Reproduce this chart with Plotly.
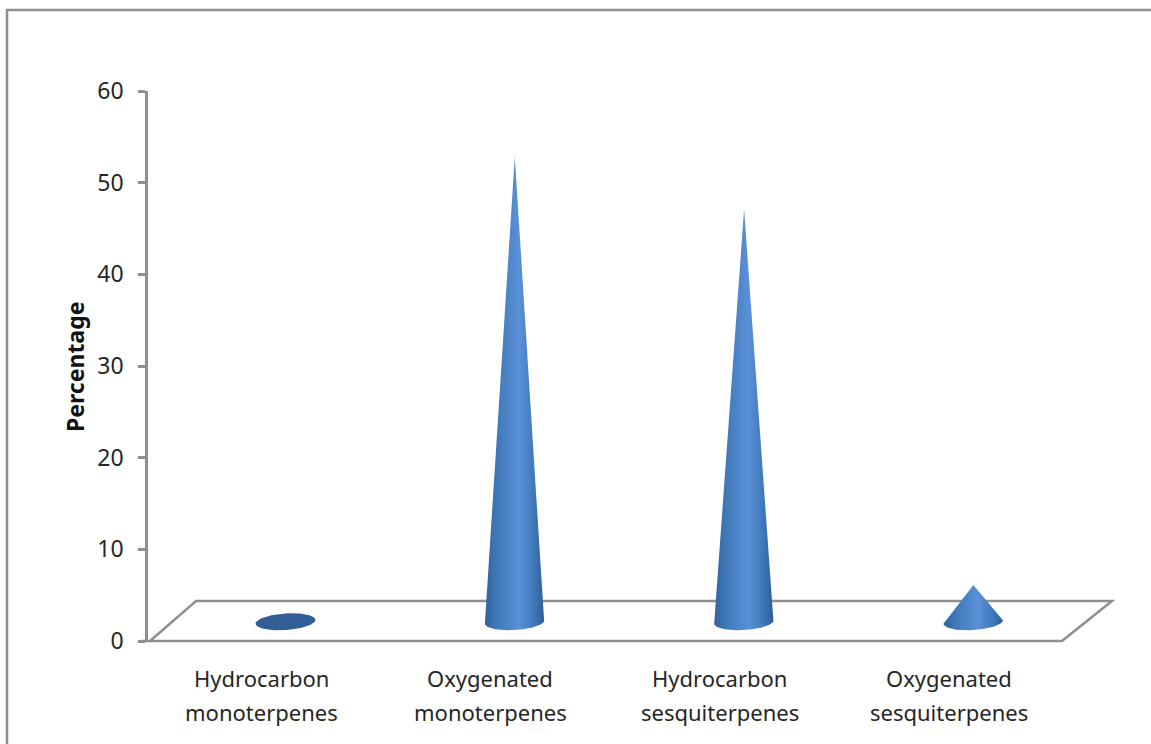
import numpy as np
import plotly.graph_objects as go

# ---- data ----
categories_line1 = ["Hydrocarbon", "Oxygenated", "Hydrocarbon", "Oxygenated"]
categories_line2 = ["monoterpenes", "monoterpenes", "sesquiterpenes", "sesquiterpenes"]
percentages = [0.2, 50.7, 45.0, 4.0]
y_ticks = [0, 10, 20, 30, 40, 50, 60]
axis_title = "Percentage"

# ---- layout geometry (pixels of the 1151x744 page) ----
W, H = 1151, 744
PLOT_L, PLOT_R, PLOT_T, PLOT_B = 148, 1112, 91, 641
FIRST_X, STEP_X = 285.5, 229.3
GREY = "#8f8f8f"
TEXT = "#262626"
FONT = "Noto Sans"


def paper_x(px):
    return (px - PLOT_L) / (PLOT_R - PLOT_L)


def paper_y(py):
    return (PLOT_B - py) / (PLOT_B - PLOT_T)


px_per_x = STEP_X
px_per_y = (PLOT_B - PLOT_T) / 60
x_range = [(PLOT_L - FIRST_X) / STEP_X, (PLOT_R - FIRST_X) / STEP_X]

BASE_Y = 2.1       # height of the cone base centre in axis units (3D floor depth)
TILT = np.deg2rad(3.8)


def ellipse(i, t):
    ex = 30 * np.cos(t)
    ey = 8.3 * np.sin(t)
    rx = ex * np.cos(TILT) - ey * np.sin(TILT)
    ry = ex * np.sin(TILT) + ey * np.cos(TILT)
    return i + rx / px_per_x, BASE_Y + ry / px_per_y


DARK_EDGE = [[0, "#31619c"], [0.2, "#4079b8"], [0.58, "#5b90d8"], [0.82, "#4079ba"], [1, "#2f5d96"]]
FLAT = [[0, "#315e95"], [1, "#315e95"]]

fig = go.Figure()
for i, v in enumerate(percentages):
    if v < 1:
        xs, ys = ellipse(i, np.linspace(0, 2 * np.pi, 90))
        scale = FLAT
    else:
        xs, ys = ellipse(i, np.linspace(0, -np.pi, 60))
        xs = np.concatenate([[i], xs, [i]])
        ys = np.concatenate([[BASE_Y + v], ys, [BASE_Y + v]])
        scale = DARK_EDGE
    fig.add_trace(go.Scatter(
        x=xs, y=ys, mode="lines", fill="toself", line=dict(width=0, color="rgba(0,0,0,0)"),
        fillgradient=dict(type="horizontal", colorscale=scale),
        hoverinfo="skip", showlegend=False,
    ))

line = dict(color=GREY, width=2.5)
shapes = [
    # outer frame
    dict(type="path", xref="paper", yref="paper", layer="below", line=line,
         path=f"M {paper_x(7)} {paper_y(745)} L {paper_x(7)} {paper_y(10)} L {paper_x(1152)} {paper_y(10)}"),
    # 3D floor
    dict(type="path", xref="paper", yref="paper", layer="below", line=line,
         path=f"M {paper_x(150)} {paper_y(641)} L {paper_x(196)} {paper_y(601)} "
              f"L {paper_x(1112)} {paper_y(601)} L {paper_x(1062)} {paper_y(641)} L {paper_x(141)} {paper_y(641)}"),
]

annotations = []
for i, (a, b) in enumerate(zip(categories_line1, categories_line2)):
    lx = i - 24.5 / STEP_X
    for text, py in ((a, 677.5), (b, 712.5)):
        annotations.append(dict(
            x=lx, y=paper_y(py), xref="x", yref="paper", text=text, showarrow=False,
            xanchor="center", yanchor="middle", font=dict(family=FONT, size=22, color=TEXT),
        ))
annotations.append(dict(
    x=paper_x(75), y=paper_y(367), xref="paper", yref="paper", text=f"<b>{axis_title}</b>",
    textangle=-90, showarrow=False, xanchor="center", yanchor="middle",
    font=dict(family=FONT, size=23, color="#111111"),
))

fig.update_layout(
    width=W, height=H, autosize=False,
    margin=dict(l=PLOT_L, r=W - PLOT_R, t=PLOT_T, b=H - PLOT_B, pad=0),
    paper_bgcolor="white", plot_bgcolor="white",
    shapes=shapes, annotations=annotations, hovermode=False,
    xaxis=dict(range=x_range, visible=False, fixedrange=True),
    yaxis=dict(
        range=[0, 60], tickvals=y_ticks, ticktext=[str(t) for t in y_ticks],
        showgrid=False, zeroline=False, showline=True, linecolor=GREY, linewidth=2.5,
        ticks="outside", ticklen=7, tickwidth=2.5, tickcolor=GREY, ticklabelstandoff=10,
        tickfont=dict(family=FONT, size=23, color=TEXT), fixedrange=True,
    ),
)
fig.write_html(
    "out.html",
    config={"displayModeBar": False},
    post_script="document.body.style.margin='0';document.documentElement.style.overflow='hidden';",
)
